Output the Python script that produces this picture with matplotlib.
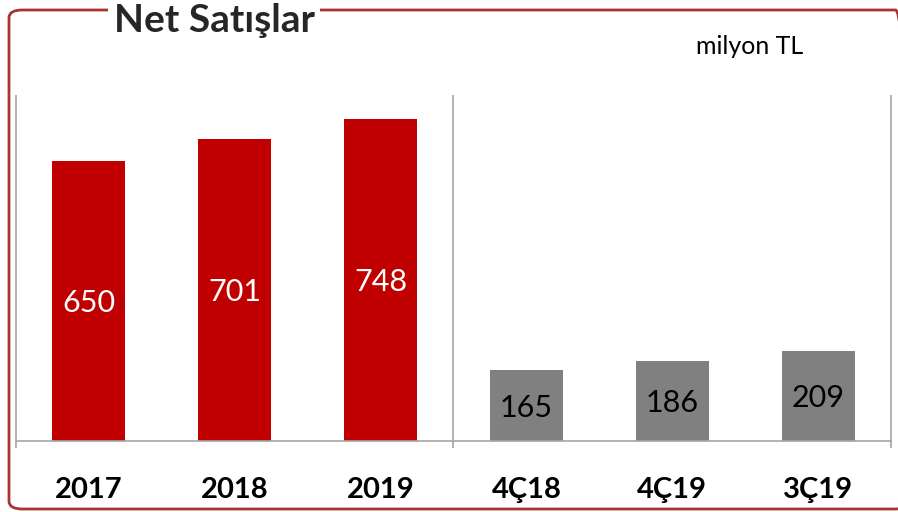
import matplotlib.pyplot as plt
from matplotlib.patches import FancyBboxPatch

categories = ['2017', '2018', '2019', '4Ç18', '4Ç19', '3Ç19']
values = [650, 701, 748, 165, 186, 209]
bar_colors = ['#C00000', '#C00000', '#C00000', '#808080', '#808080', '#808080']
label_colors = ['white', 'white', 'white', 'black', 'black', 'black']

plt.rcParams['font.family'] = ['Lato', 'DejaVu Sans']

fig = plt.figure(figsize=(8.98, 5.12), dpi=100)
W, H = 898, 512

# rounded frame around the chart (right side runs off the picture)
frame = FancyBboxPatch((9 / W, 3 / H), 900 / W, 499 / H,
                       boxstyle='round,pad=0,rounding_size=0.015',
                       transform=fig.transFigure, fill=False,
                       edgecolor='#A93434', linewidth=2, clip_on=False)
fig.patches.append(frame)

fig.text(214 / W, 1 - 20 / H, 'Net Satışlar', fontsize=28, fontweight='bold',
         color='#262626', ha='center', va='center',
         bbox=dict(facecolor='white', edgecolor='none', pad=4))
fig.text(750 / W, 1 - 46 / H, 'milyon TL', fontsize=18, color='black',
         ha='center', va='center')

ax = fig.add_axes([16 / W, 71 / H, 875 / W, 346 / H])
x = range(len(categories))
bars = ax.bar(x, values, width=0.5, color=bar_colors)
ax.set_xlim(-0.5, 5.5)
ax.set_ylim(0, 803)

for b, v, c in zip(bars, values, label_colors):
    ax.text(b.get_x() + b.get_width() / 2, v / 2 - 5, str(v), ha='center',
            va='center', fontsize=22, color=c)

for s in ax.spines.values():
    s.set_visible(False)
ax.axhline(0, color='#A6A6A6', linewidth=1.2, clip_on=False, zorder=3)
ax.vlines([-0.5, 2.5, 5.5], -16, 803, color='#A6A6A6', linewidth=1.2, clip_on=False)

ax.set_yticks([])
ax.set_xticks(list(x))
ax.set_xticklabels(categories, fontsize=21, fontweight='bold')
ax.tick_params(axis='x', length=0, pad=26)

plt.savefig('out.png', dpi=100)
